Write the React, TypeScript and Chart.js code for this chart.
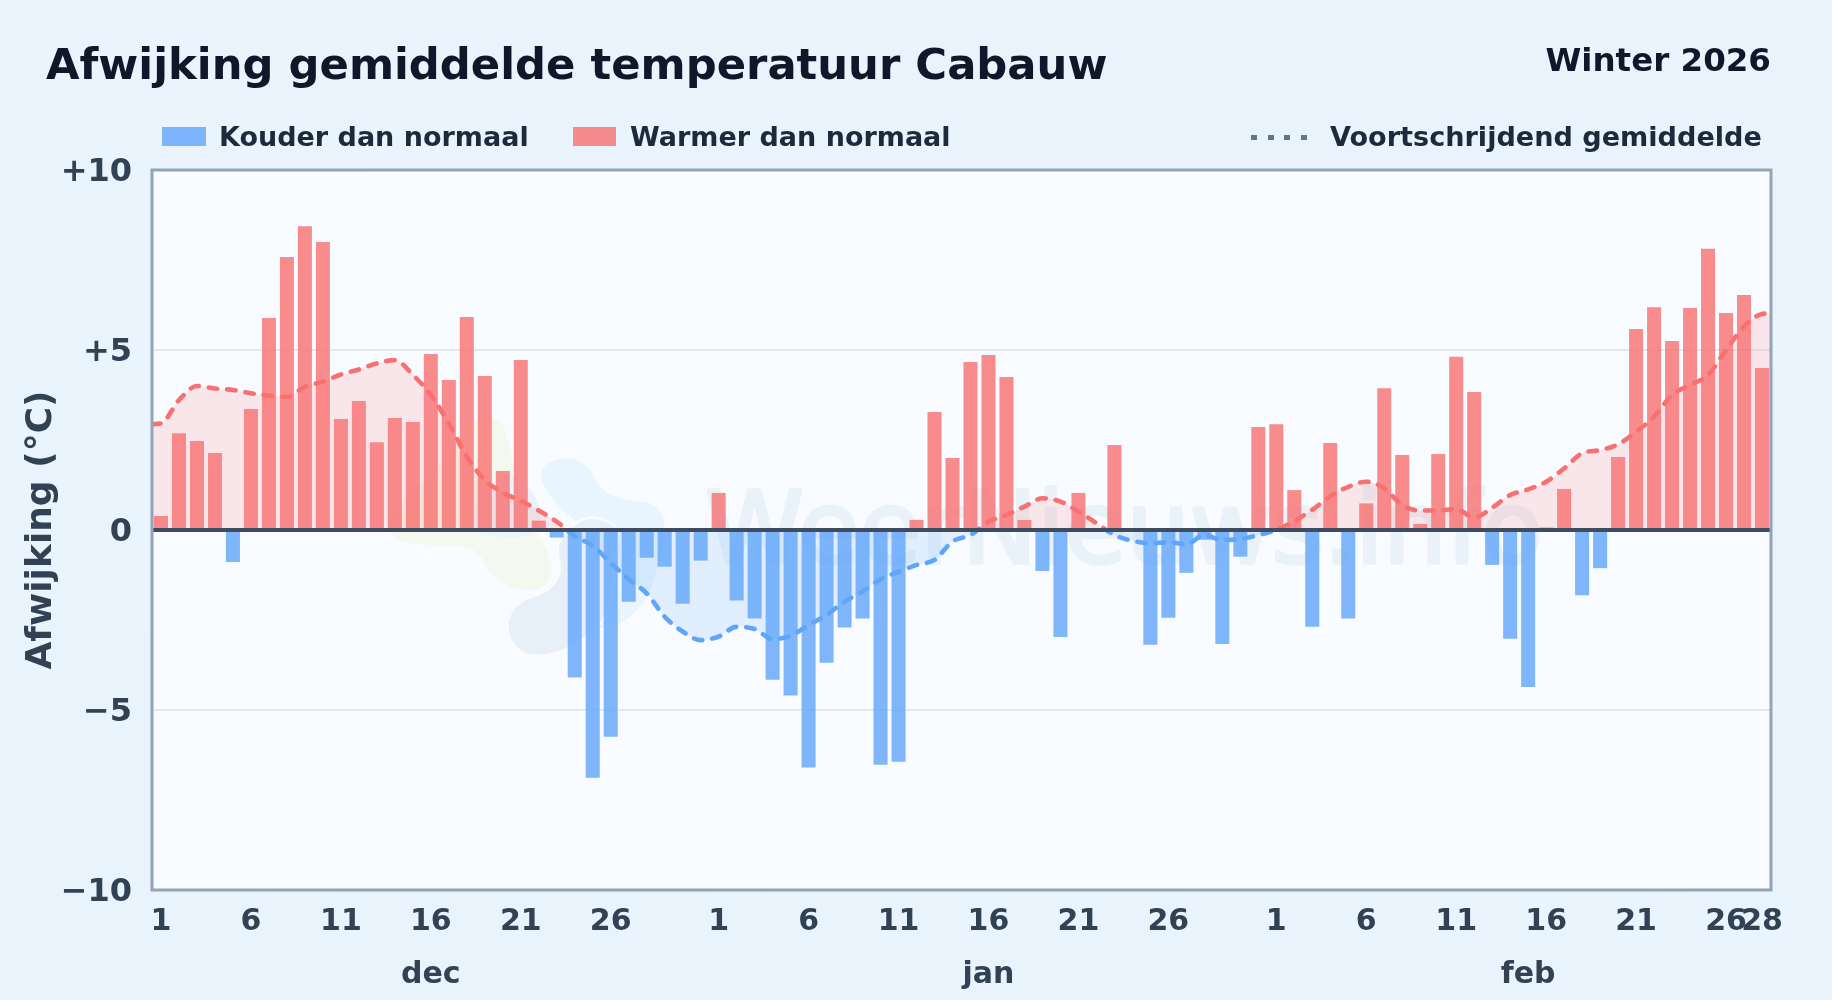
import React, { useEffect, useRef } from "react";
import { Chart, registerables } from "chart.js";

Chart.register(...registerables);

const chartTitle = "Afwijking gemiddelde temperatuur Cabauw";
const seasonLabel = "Winter 2026";
const coldLabel = "Kouder dan normaal";
const warmLabel = "Warmer dan normaal";
const avgLabel = "Voortschrijdend gemiddelde";
const yAxisLabel = "Afwijking (°C)";
const watermark = "WeerNieuws.info";

const decDays = [1, 2, 3, 4, 5, 6, 7, 8, 9, 10, 11, 12, 13, 14, 15, 16, 17, 18, 19, 20, 21, 22, 23, 24, 25, 26, 27, 28, 29, 30, 31];
const janDays = decDays;
const febDays = decDays.slice(0, 28);
const days = [...decDays, ...janDays, ...febDays];
const shownDays = [1, 6, 11, 16, 21, 26];
const monthNames = ["dec", "jan", "feb"];
const monthLabelAt = [15, 46, 76];

const anomalyDec = [0.39, 2.69, 2.47, 2.14, -0.89, 3.36, 5.89, 7.58, 8.44, 8.0, 3.08, 3.58, 2.44, 3.11, 3.0, 4.89, 4.17, 5.92, 4.28, 1.64, 4.72, 0.26, -0.21, -4.1, -6.88, -5.74, -1.99, -0.77, -1.02, -2.05, -0.85];
const anomalyJan = [1.03, -1.96, -2.46, -4.16, -4.6, -6.6, -3.69, -2.71, -2.46, -6.52, -6.44, 0.28, 3.28, 2.0, 4.67, 4.86, 4.25, 0.28, -1.14, -2.97, 1.03, 0, 2.36, 0, -3.19, -2.44, -1.19, -0.27, -3.17, -0.74, 2.86];
const anomalyFeb = [2.94, 1.11, -2.69, 2.42, -2.46, 0.74, 3.94, 2.08, 0.17, 2.11, 4.81, 3.83, -0.97, -3.02, -4.36, 0.07, 1.14, -1.81, -1.06, 2.03, 5.58, 6.19, 5.25, 6.17, 7.81, 6.03, 6.53, 4.5];
const anomaly = [...anomalyDec, ...anomalyJan, ...anomalyFeb];

const movingAvgDec = [2.96, 3.61, 4.0, 3.93, 3.89, 3.8, 3.73, 3.7, 3.98, 4.12, 4.32, 4.46, 4.63, 4.72, 4.31, 3.75, 2.96, 2.04, 1.39, 1.04, 0.81, 0.54, 0.23, -0.17, -0.44, -0.91, -1.37, -1.76, -2.41, -2.82, -3.06];
const movingAvgJan = [-2.96, -2.69, -2.75, -3.03, -2.94, -2.64, -2.36, -1.99, -1.71, -1.37, -1.16, -0.97, -0.83, -0.32, -0.14, 0.23, 0.42, 0.65, 0.88, 0.79, 0.51, 0.19, -0.14, -0.3, -0.37, -0.34, -0.4, -0.14, -0.28, -0.25, -0.14];
const movingAvgFeb = [0.0, 0.25, 0.56, 0.94, 1.2, 1.34, 1.16, 0.69, 0.54, 0.54, 0.58, 0.35, 0.62, 0.97, 1.13, 1.34, 1.71, 2.13, 2.22, 2.38, 2.73, 3.15, 3.75, 4.03, 4.31, 5.0, 5.65, 6.0];
const movingAvg = [...movingAvgDec, ...movingAvgJan, ...movingAvgFeb];
const avgStart = 2.94;
const avgEnd = 6.02;

const yTicks = [-10, -5, 0, 5, 10];
const fmtY = (v: number) => (v > 0 ? `+${v}` : v < 0 ? `\u2212${-v}` : "0");

const FONT = "'DejaVu Sans'";
const TICK = "#334155";

const blobGreen = [[385, 533], [410, 545], [460, 545], [480, 552], [490, 575], [515, 590], [545, 590], [553, 565], [540, 535], [515, 510], [512, 450], [500, 415], [470, 420], [440, 470], [400, 500]];
const blobBlue = [[537, 477], [550, 460], [573, 457], [590, 468], [600, 490], [623, 500], [657, 503], [667, 527], [655, 580], [640, 610], [610, 630], [585, 625], [575, 560], [590, 530], [560, 510]];
const blobGray = [[507, 623], [517, 603], [550, 592], [563, 573], [557, 547], [567, 532], [587, 517], [610, 523], [618, 532], [612, 560], [610, 617], [567, 650], [530, 657], [512, 643]];
const blobGray2 = [[470, 530], [480, 490], [510, 473], [535, 490], [545, 530], [510, 540]];

function smoothBlob(ctx: CanvasRenderingContext2D, pts: number[][]) {
  ctx.beginPath();
  const n = pts.length;
  const mid = (a: number[], b: number[]) => [(a[0] + b[0]) / 2, (a[1] + b[1]) / 2];
  const s = mid(pts[n - 1], pts[0]);
  ctx.moveTo(s[0], s[1]);
  for (let i = 0; i < n; i++) {
    const m = mid(pts[i], pts[(i + 1) % n]);
    ctx.quadraticCurveTo(pts[i][0], pts[i][1], m[0], m[1]);
  }
  ctx.closePath();
}

const backdrop = {
  id: "backdrop",
  beforeDraw(chart: any) {
    const { ctx, chartArea: a } = chart;
    ctx.save();
    ctx.fillStyle = "#f8fbff";
    ctx.fillRect(a.left, a.top, a.right - a.left, a.bottom - a.top);
    ctx.restore();
  },
  beforeDatasetsDraw(chart: any) {
    const { ctx, chartArea: a, scales } = chart;
    ctx.save();
    ctx.beginPath();
    ctx.rect(a.left, a.top, a.right - a.left, a.bottom - a.top);
    ctx.clip();
    ctx.lineWidth = 6;
    ctx.strokeStyle = "rgba(248,251,255,0.9)";
    smoothBlob(ctx, blobBlue);
    ctx.fillStyle = "#e8f4fe";
    ctx.fill();
    smoothBlob(ctx, blobGreen);
    ctx.fillStyle = "#f4f9ef";
    ctx.fill();
    smoothBlob(ctx, blobGray2);
    ctx.fillStyle = "#ecf2f9";
    ctx.fill();
    smoothBlob(ctx, blobGray);
    ctx.stroke();
    ctx.fillStyle = "#e7eff8";
    ctx.fill();
    ctx.fillStyle = "#e9f1f9";
    ctx.strokeStyle = "#e9f1f9";
    ctx.lineWidth = 3.5;
    ctx.lineJoin = "round";
    ctx.font = `normal 100px ${FONT}`;
    ctx.textAlign = "center";
    ctx.textBaseline = "alphabetic";
    const wy = scales.y.getPixelForValue(0) + 33;
    ctx.strokeText(watermark, 1124, wy);
    ctx.fillText(watermark, 1124, wy);
    ctx.restore();
  },
  afterDatasetsDraw(chart: any) {
    const { ctx, chartArea: a, scales } = chart;
    const z = scales.y.getPixelForValue(0);
    ctx.save();
    ctx.strokeStyle = "#3f4c60";
    ctx.lineWidth = 4;
    ctx.beginPath();
    ctx.moveTo(a.left, z);
    ctx.lineTo(a.right, z);
    ctx.stroke();
    ctx.strokeStyle = "#94a3b8";
    ctx.lineWidth = 3;
    ctx.strokeRect(a.left, a.top, a.right - a.left, a.bottom - a.top);
    ctx.restore();
  },
};

function splitStroke(ctx: any, top: string, bottom: string) {
  const chart = ctx.chart;
  const a = chart.chartArea;
  if (!a) return top;
  const z = chart.scales.y.getPixelForValue(0);
  const stop = (z - a.top) / (a.bottom - a.top);
  const g = chart.ctx.createLinearGradient(0, a.top, 0, a.bottom);
  g.addColorStop(0, top);
  g.addColorStop(stop, top);
  g.addColorStop(stop, bottom);
  g.addColorStop(1, bottom);
  return g;
}

function nudgeLabels(scale: any, dy: number) {
  const original = scale._computeLabelItems;
  scale._computeLabelItems = function (area: any) {
    const items = original.call(scale, area);
    items.forEach((it: any) => {
      it.options.translation = [it.options.translation[0], it.options.translation[1] + dy];
    });
    return items;
  };
}

export default function App() {
  const ref = useRef<HTMLCanvasElement | null>(null);

  useEffect(() => {
    if (!ref.current) return;
    const linePoints = [
      { x: -0.5, y: avgStart },
      ...movingAvg.map((y, i) => ({ x: i, y })),
      { x: movingAvg.length - 0.5, y: avgEnd },
    ];
    const last = days.length - 1;
    const xRange = { min: -0.5, max: last + 0.5 };
    const chart = new Chart(ref.current, {
      type: "bar",
      data: {
        datasets: [
          {
            type: "bar",
            label: "Afwijking",
            data: anomaly.map((y, i) => ({ x: i, y })) as any,
            order: 1,
            backgroundColor: anomaly.map((v) => (v >= 0 ? "rgba(248,113,113,0.8)" : "rgba(96,165,250,0.8)")),
            borderWidth: 0,
            barPercentage: 0.78,
            categoryPercentage: 1,
          },
          {
            type: "line",
            label: avgLabel,
            data: linePoints as any,
            order: 2,
            borderColor: (c: any) => splitStroke(c, "#f87171", "#60a5fa"),
            borderWidth: 4.6,
            borderDash: [8.5, 10],
            borderCapStyle: "round",
            cubicInterpolationMode: "monotone",
            pointRadius: 0,
            fill: { target: { value: 0 }, above: "rgba(248,113,113,0.15)", below: "rgba(96,165,250,0.15)" },
          } as any,
        ],
      },
      options: {
        responsive: false,
        animation: false,
        devicePixelRatio: 1,
        layout: { padding: { top: 170, right: 61, left: 0, bottom: 0 } },
        plugins: { legend: { display: false }, tooltip: { enabled: false } },
        scales: {
          x: {
            type: "linear",
            position: "bottom",
            weight: 0,
            offset: false,
            ...xRange,
            afterBuildTicks(s: any) {
              s.ticks = days
                .map((d, value) => ({ d, value }))
                .filter((t) => shownDays.includes(t.d) || t.value === last)
                .map((t) => ({ value: t.value }));
            },
            grid: { display: false, drawTicks: false, offset: false },
            border: { display: false },
            ticks: {
              autoSkip: false,
              maxRotation: 0,
              minRotation: 0,
              padding: 14,
              color: TICK,
              font: { family: FONT, size: 30, weight: "bold" },
              callback: (v: any) => String(days[Number(v)]),
            },
            afterFit(s: any) {
              s.height = 55;
            },
          },
          x2: {
            type: "linear",
            position: "bottom",
            weight: 1,
            offset: false,
            ...xRange,
            afterBuildTicks(s: any) {
              s.ticks = monthLabelAt.map((value) => ({ value }));
            },
            grid: { display: false, drawTicks: false, offset: false },
            border: { display: false },
            ticks: {
              autoSkip: false,
              maxRotation: 0,
              minRotation: 0,
              padding: 12,
              color: TICK,
              font: { family: FONT, size: 30, weight: "bold" },
              callback: (v: any) => monthNames[monthLabelAt.indexOf(Number(v))],
            },
            afterFit(s: any) {
              s.height = 55;
            },
          },
          y: {
            type: "linear",
            min: yTicks[0],
            max: yTicks[yTicks.length - 1],
            afterBuildTicks(s: any) {
              s.ticks = yTicks.map((value) => ({ value }));
              if (!s.__nudged) {
                s.__nudged = true;
                nudgeLabels(s, 3);
              }
            },
            grid: {
              drawTicks: false,
              lineWidth: 2,
              color: (c: any) => (Math.abs(c.tick.value) === 5 ? "#e2e8f0" : "rgba(0,0,0,0)"),
            },
            border: { display: false },
            ticks: {
              padding: 20,
              color: TICK,
              font: { family: FONT, size: 32, weight: "bold" },
              callback: (v: any) => fmtY(Number(v)),
            },
            title: {
              display: true,
              text: yAxisLabel,
              color: TICK,
              font: { family: FONT, size: 36, weight: "bold" },
              padding: { top: 20, bottom: 0 },
            },
            afterFit(s: any) {
              s.width = 152;
            },
          },
        },
      },
      plugins: [backdrop],
    } as any);
    return () => chart.destroy();
  }, []);

  const text = (style: React.CSSProperties): React.CSSProperties => ({
    position: "absolute",
    fontFamily: FONT,
    fontWeight: 700,
    whiteSpace: "nowrap",
    lineHeight: 1,
    ...style,
  });

  return (
    <div
      style={{
        position: "fixed",
        left: 0,
        top: 0,
        width: 1832,
        height: 1000,
        overflow: "hidden",
        background: "linear-gradient(135deg,#eaf4fc 0%,#e8f3fc 50%,#eaf4fc 100%)",
      }}
    >
      <canvas ref={ref} width={1832} height={1000} style={{ position: "absolute", left: 0, top: 0, display: "block" }} />
      <div style={text({ left: 46, top: 43, fontSize: 43.3, color: "#0f172a" })}>{chartTitle}</div>
      <div style={text({ right: 61, top: 44, fontSize: 32.5, color: "#0f172a" })}>{seasonLabel}</div>
      <div style={{ position: "absolute", left: 162, top: 127, width: 44, height: 19, background: "rgba(96,165,250,0.8)" }} />
      <div style={text({ left: 219, top: 122.5, fontSize: 27, color: "#1e293b" })}>{coldLabel}</div>
      <div style={{ position: "absolute", left: 573, top: 127, width: 43, height: 19, background: "rgba(248,113,113,0.8)" }} />
      <div style={text({ left: 630, top: 122.5, fontSize: 27, color: "#1e293b" })}>{warmLabel}</div>
      {[0, 1, 2, 3].map((i) => (
        <div key={i} style={{ position: "absolute", left: 1251 + i * 16.5, top: 134.5, width: 6, height: 5, background: "#64748b" }} />
      ))}
      <div style={text({ left: 1330, top: 122.5, fontSize: 27.1, color: "#1e293b" })}>{avgLabel}</div>
    </div>
  );
}
